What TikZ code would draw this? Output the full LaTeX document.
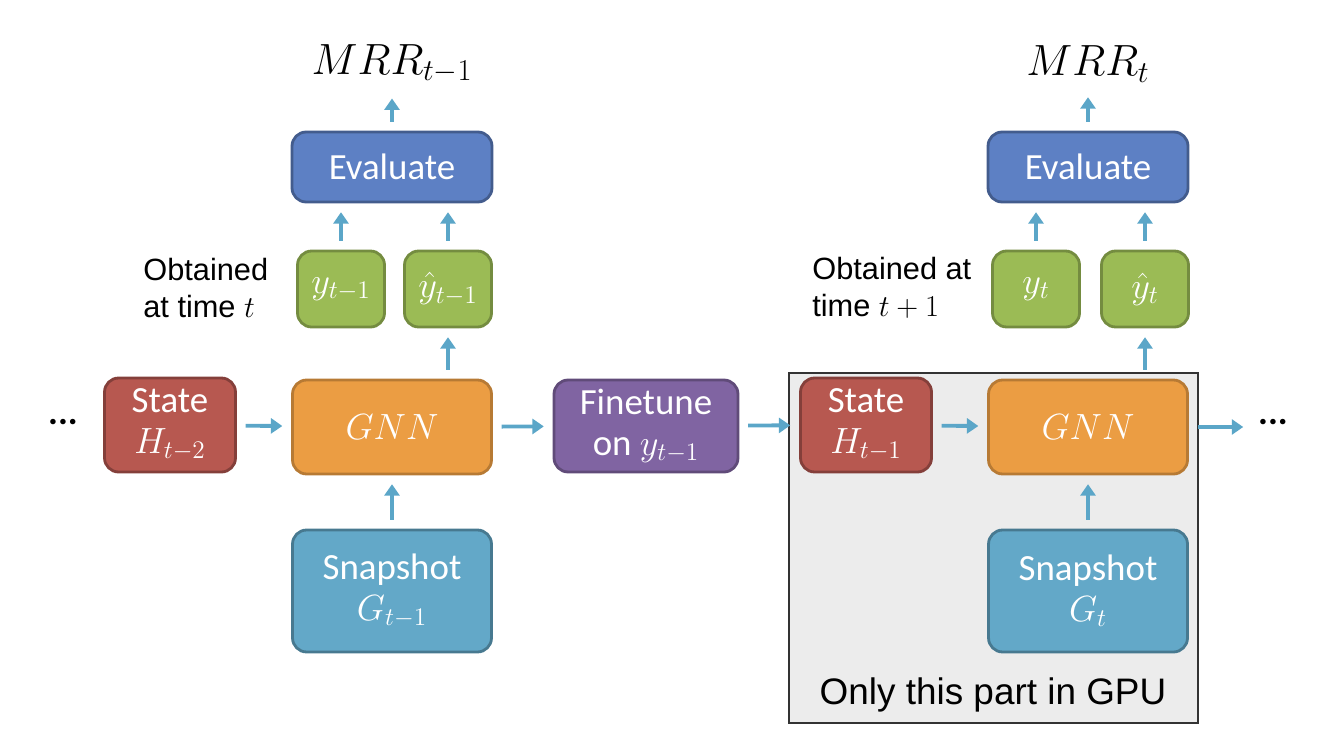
\documentclass[tikz,border=0pt]{standalone}
\usepackage{fontspec}
\setmainfont{Carlito}
\newfontfamily\helvfont{Liberation Sans}
\usetikzlibrary{arrows.meta, positioning}
\definecolor{statered}{RGB}{183, 88, 80}
\definecolor{gnnorange}{RGB}{235, 157, 67}
\definecolor{snapblue}{RGB}{99, 168, 200}
\definecolor{predgreen}{RGB}{155, 187, 85}
\definecolor{evalblue}{RGB}{93, 128, 196}
\definecolor{tunepurple}{RGB}{128, 100, 162}
\definecolor{flowblue}{RGB}{91, 166, 200}
\definecolor{gpugray}{RGB}{236, 236, 236}

\tikzset{
  box/.style={rounded corners=8pt, line width=1.6pt, text=white, align=center,
    inner sep=0pt, font=\fontsize{21}{23}\selectfont},
  statebox/.style={box, fill=statered, draw=statered!72!black, minimum width=2.62cm, minimum height=1.88cm},
  gnnbox/.style={box, fill=gnnorange, draw=gnnorange!78!black, minimum width=3.98cm, minimum height=1.88cm},
  snapbox/.style={box, fill=snapblue, draw=snapblue!72!black, minimum width=3.98cm, minimum height=2.44cm},
  ybox/.style={box, fill=predgreen, draw=predgreen!75!black, minimum width=1.74cm, minimum height=1.52cm},
  evalbox/.style={box, fill=evalblue, draw=evalblue!72!black, minimum width=4cm, minimum height=1.4cm},
  tunebox/.style={box, fill=tunepurple, draw=tunepurple!75!black, minimum width=3.68cm, minimum height=1.84cm},
  flow/.style={-{Triangle[length=6.5pt, width=8.5pt]}, line width=2.2pt, flowblue,
    shorten <=5pt, shorten >=5pt},
  note/.style={font=\helvfont\fontsize{17.5}{21}\selectfont, align=left, anchor=west, inner sep=0pt},
}

\begin{document}
\begin{tikzpicture}[x=0.02cm, y=-0.02cm]
  \useasboundingbox (0, 0) rectangle (1318, 750);

  % GPU part
  \node[draw=black!80, line width=1pt, fill=gpugray, minimum width=8.18cm, minimum height=7cm,
    inner sep=0pt] (gpu) at (993.5, 548) {};
  \node[font=\helvfont\fontsize{21}{24}\selectfont, anchor=base] (gpulabel) at (993, 704) {Only this part in GPU};

  % step t-1
  \node[font=\bfseries\fontsize{21}{23}\selectfont] (dotsL) at (63, 422) {...};
  \node[statebox] (stateA) at (170, 425) {State\\$H_{t-2}$};
  \node[gnnbox] (gnnA) at (392, 427) {$GNN$};
  \node[snapbox] (snapA) at (392, 591) {Snapshot\\$G_{t-1}$};
  \node[ybox] (yA) at (341, 289) {$y_{t-1}$};
  \node[ybox] (yhatA) at (448, 289) {$\hat{y}_{t-1}$};
  \node[evalbox] (evalA) at (392, 167) {Evaluate};
  \node[font=\fontsize{23}{25}\selectfont] (mrrA) at (392, 64) {$MRR_{t-1}$};
  \node[note] (obtA) at (143, 288) {Obtained\\at time $t$};

  \node[tunebox] (tune) at (646, 426) {Finetune\\on $y_{t-1}$};

  % step t
  \node[statebox] (stateB) at (866, 425) {State\\$H_{t-1}$};
  \node[gnnbox] (gnnB) at (1088, 427) {$GNN$};
  \node[snapbox] (snapB) at (1088, 591) {Snapshot\\$G_{t}$};
  \node[ybox] (yB) at (1036, 289) {$y_{t}$};
  \node[ybox] (yhatB) at (1145, 289) {$\hat{y}_{t}$};
  \node[evalbox] (evalB) at (1088, 167) {Evaluate};
  \node[font=\fontsize{23}{25}\selectfont] (mrrB) at (1088, 64) {$MRR_{t}$};
  \node[note] (obtB) at (812, 288) {Obtained at\\time $t+1$};
  \node[font=\bfseries\fontsize{21}{23}\selectfont] (dotsR) at (1273, 422) {...};

  % arrows
  \draw[flow] (stateA) -- (gnnA);
  \draw[flow] (snapA) -- (gnnA);
  \draw[flow] (yhatA.south |- gnnA.north) -- (yhatA);
  \draw[flow] (yA) -- (yA.north |- evalA.south);
  \draw[flow] (yhatA) -- (yhatA.north |- evalA.south);
  \draw[flow] (evalA) -- (mrrA);
  \draw[flow] (gnnA) -- (tune);
  \draw[flow] (tune) -- (stateB);
  \draw[flow] (stateB) -- (gnnB);
  \draw[flow] (snapB) -- (gnnB);
  \draw[flow] (yhatB.south |- gnnB.north) -- (yhatB);
  \draw[flow] (yB) -- (yB.north |- evalB.south);
  \draw[flow] (yhatB) -- (yhatB.north |- evalB.south);
  \draw[flow] (evalB) -- (mrrB);
  \draw[flow] (gnnB.east) -- (gnnB.east -| dotsR.west);
\end{tikzpicture}
\end{document}
